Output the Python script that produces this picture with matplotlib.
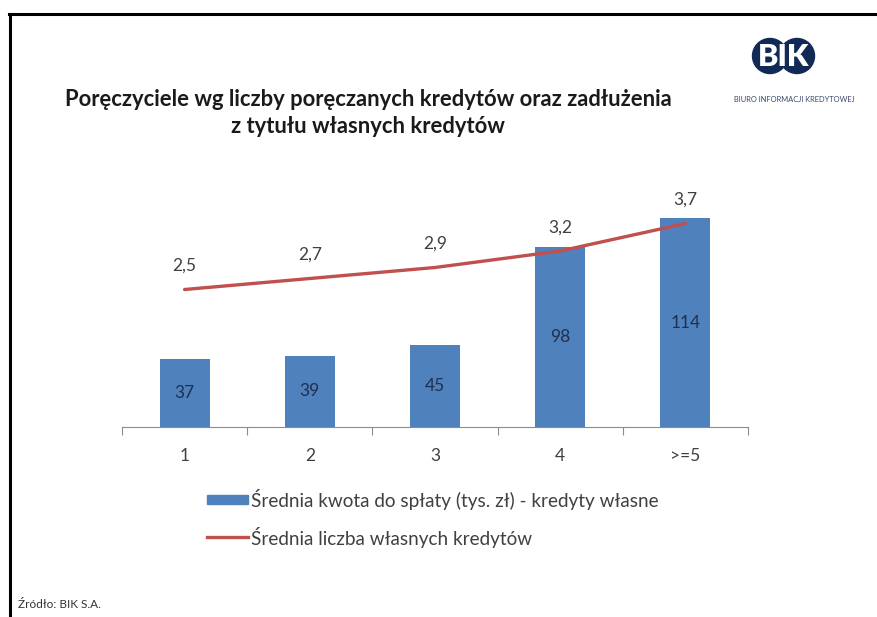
import numpy as np
import matplotlib
matplotlib.use("Agg")
import matplotlib.pyplot as plt
from matplotlib.patches import Rectangle, Circle
from matplotlib.lines import Line2D

# dane z wykresu
kategorie = ["1", "2", "3", "4", ">=5"]
kwota = [37, 39, 45, 98, 114]            # tys. zl - kredyty wlasne
liczba = [2.5, 2.7, 2.9, 3.2, 3.7]       # srednia liczba wlasnych kredytow
etykiety_liczba = ["2,5", "2,7", "2,9", "3,2", "3,7"]

tytul = "Poręczyciele wg liczby poręczanych kredytów oraz zadłużenia\nz tytułu własnych kredytów"
leg_bar = "Średnia kwota do spłaty (tys. zł) - kredyty własne"
leg_line = "Średnia liczba własnych kredytów"
zrodlo = "Źródło: BIK S.A."

plt.rcParams['font.family'] = ['Lato', 'DejaVu Sans']

W, H = 877, 617
fig = plt.figure(figsize=(W / 100, H / 100), dpi=100)
fig.patch.set_facecolor('white')

def fx(px):
    return px / W

def fy(py):
    return 1 - py / H

# ramka (gora i lewa strona)
fig.add_artist(Line2D([fx(9), 1], [fy(14), fy(14)], color='black', lw=2.2, transform=fig.transFigure))
fig.add_artist(Line2D([fx(10), fx(10)], [0, fy(14)], color='black', lw=2.2, transform=fig.transFigure))

# tytul
fig.text(fx(368), fy(113), tytul, ha='center', va='center', fontsize=15.8,
         weight='bold', color='#1a1a1a', linespacing=1.3)

# logo BIK
axl = fig.add_axes([fx(745), fy(80), 80 / W, 45 / H])
axl.set_xlim(0, 80)
axl.set_ylim(45, 0)
axl.axis('off')
axl.add_patch(Circle((25, 21), 17.5, color='#102a55'))
axl.add_patch(Circle((52, 21), 17.5, color='#102a55'))
axl.text(38.5, 22, "BIK", color='white', weight='heavy', fontsize=22, ha='center', va='center')
fig.text(fx(794), fy(100), "BIURO INFORMACJI KREDYTOWEJ", ha='center', va='center',
         fontsize=5.4, color='#3a4a6a')

# wykres
ax = fig.add_axes([fx(122), fy(427), 626 / W, 220 / H])
ind = np.arange(len(kategorie))
ax.bar(ind, kwota, width=0.4, color='#4F81BD')
ax.set_xlim(-0.5, 4.5)
ax.set_ylim(0, 120)
for s in ['top', 'right', 'left']:
    ax.spines[s].set_visible(False)
ax.spines['bottom'].set_color('#8c8c8c')
ax.set_yticks([])
ax.set_xticks(np.arange(-0.5, 5, 1))
ax.set_xticklabels([])
ax.set_xticks(ind, minor=True)
ax.set_xticklabels(kategorie, minor=True)
ax.tick_params(axis='x', which='major', length=6, color='#8c8c8c', direction='out')
ax.tick_params(axis='x', which='minor', length=0, pad=15, labelsize=12.5, labelcolor='#404040')

for i in range(len(kwota)):
    ax.text(ind[i], kwota[i] / 2, str(kwota[i]), ha='center', va='center',
            fontsize=12.5, color='#1f3050')

ax2 = ax.twinx()
ax2.plot(ind, liczba, color='#C0504D', lw=2.4, solid_capstyle='round')
ax2.set_ylim(0, 4)
for s in ['top', 'right', 'left', 'bottom']:
    ax2.spines[s].set_visible(False)
ax2.set_yticks([])
for i in range(len(liczba)):
    ax2.annotate(etykiety_liczba[i], (ind[i], liczba[i]), xytext=(0, 17),
                 textcoords='offset points', ha='center', va='center',
                 fontsize=12.5, color='#404040')

# legenda
fig.add_artist(Rectangle((fx(207), fy(504)), 41 / W, 9 / H, color='#4F81BD',
                         transform=fig.transFigure))
fig.text(fx(251), fy(499), leg_bar, ha='left', va='center', fontsize=13.6, color='#404040')
fig.add_artist(Line2D([fx(207), fx(248)], [fy(537), fy(537)], color='#C0504D', lw=2.4,
                      transform=fig.transFigure))
fig.text(fx(251), fy(537), leg_line, ha='left', va='center', fontsize=13.6, color='#404040')

# zrodlo
fig.text(fx(18), fy(605), zrodlo, ha='left', va='center', fontsize=8.5, color='#333333')

fig.savefig('out.png', dpi=100)
